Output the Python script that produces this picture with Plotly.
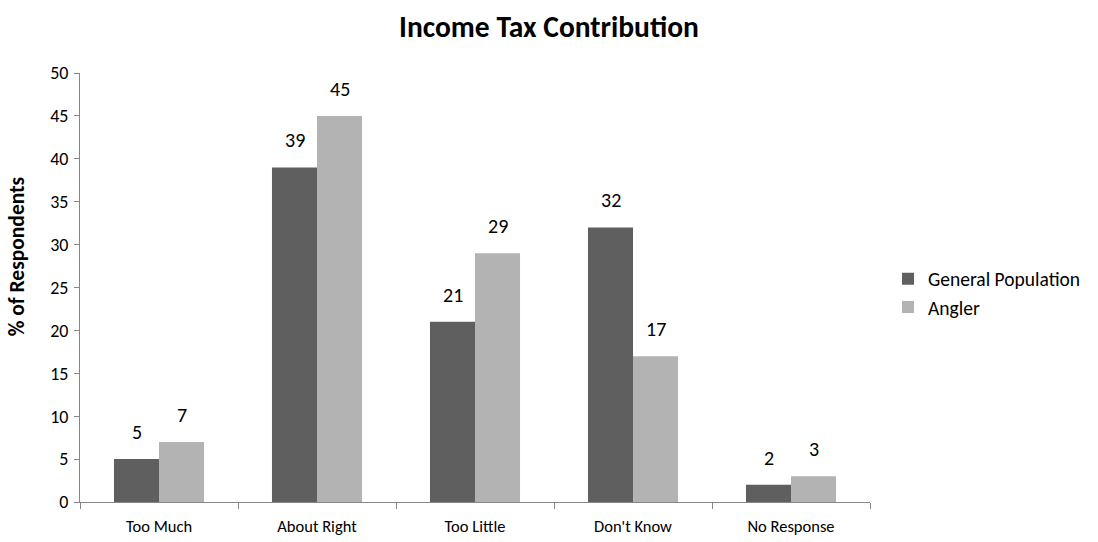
import plotly.graph_objects as go

categories = ["Too Much", "About Right", "Too Little", "Don't Know", "No Response"]
general_population = [5, 39, 21, 32, 2]
angler = [7, 45, 29, 17, 3]
y_ticks = [0, 5, 10, 15, 20, 25, 30, 35, 40, 45, 50]

FONT = "Carlito, Lato, 'Open Sans', sans-serif"
DARK = "#5f5f5f"
LIGHT = "#b3b3b3"

fig = go.Figure()
fig.add_trace(go.Bar(name="General Population", x=categories, y=general_population,
                     marker=dict(color=DARK, line=dict(width=0))))
fig.add_trace(go.Bar(name="Angler", x=categories, y=angler,
                     marker=dict(color=LIGHT, line=dict(width=0))))

bar_px = 45
for series, shift in ((general_population, -bar_px / 2), (angler, bar_px / 2)):
    for c, v in zip(categories, series):
        fig.add_annotation(x=c, y=v, text=str(v), showarrow=False, xshift=shift,
                           yshift=27, font=dict(size=20, color="#000000", family=FONT))

# y-axis title placed like the original (slightly above the plot centre)
fig.add_annotation(text="<b>% of Respondents</b>", xref="paper", yref="paper",
                   x=-0.0797, y=0.573, xanchor="center", yanchor="middle",
                   textangle=-90, showarrow=False,
                   font=dict(size=21.5, color="#000000", family=FONT))

fig.update_layout(
    width=1098, height=542,
    paper_bgcolor="white", plot_bgcolor="white",
    font=dict(family=FONT, color="#000000", size=14),
    title=dict(text="<b>Income Tax Contribution</b>", x=0.5, xanchor="center",
               y=0.95, yanchor="middle", font=dict(size=29.5, family=FONT)),
    margin=dict(l=80, r=228, t=73, b=40),
    barmode="group", bargap=0.43, bargroupgap=0,
    showlegend=True,
    legend=dict(x=1.0228, y=0.487, xanchor="left", yanchor="middle",
                font=dict(size=19.5, family=FONT), tracegroupgap=8,
                itemwidth=30, bgcolor="rgba(0,0,0,0)"),
    xaxis=dict(showline=True, linecolor="#868686", linewidth=1, automargin=False,
               ticks="outside", tickson="boundaries", ticklen=6, tickcolor="#868686",
               tickfont=dict(size=16.5), ticklabelstandoff=9,
               showgrid=False, zeroline=False),
    yaxis=dict(range=[0, 50], tickvals=y_ticks, showline=True, linecolor="#868686",
               linewidth=1, ticks="outside", ticklen=5, tickcolor="#868686", automargin=False,
               tickfont=dict(size=18), ticklabelstandoff=2,
               showgrid=False, zeroline=False),
)

fig.write_html("out.html", config={"displayModeBar": False},
               post_script="document.body.style.margin='0';document.body.style.overflow='hidden';")
